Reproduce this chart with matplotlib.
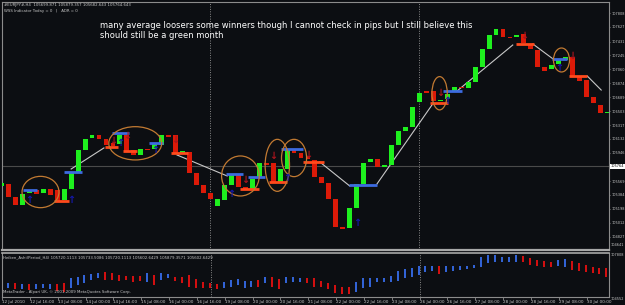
import numpy as np
import matplotlib
matplotlib.use('Agg')
from matplotlib import pyplot as plt
from matplotlib.patches import Ellipse

bg = '#0c0e12'
green = '#1ef01e'
red = '#dc1a08'
blue_lvl = '#3d6be0'
orange_lvl = '#ff4a1c'

# H4 candles from 12 Jul 2010 00:00 (bar index = position)
opens = [105503, 105530, 105357, 105250, 105410, 105450, 105410, 105463, 105450, 105317,
         105463, 105690, 105984, 106144, 106184, 106131, 106077, 106064, 106184, 105984,
         105917, 105997, 105997, 106051, 106184, 106184, 105944, 105957, 105677, 105517,
         105410, 105237, 105317, 105517, 105650, 105490, 105463, 105624, 105810, 105810,
         105557, 105730, 105984, 105944, 105904, 105850, 105624, 105543, 105330, 104956,
         104943, 105210, 105530, 105824, 105864, 105757, 105784, 106051, 106237, 106291,
         106624, 106771, 106771, 106638, 106664, 106771, 106825, 106811, 106891, 107091,
         107332, 107518, 107598, 107492, 107492, 107532, 107385, 107318, 107091, 107065,
         107131, 107185, 107225, 106958, 106918, 106691, 106584, 106478]
closes = [105543, 105357, 105250, 105397, 105450, 105397, 105463, 105383, 105303, 105463,
          105677, 105984, 106131, 106184, 106131, 106051, 106037, 106184, 105971, 105917,
          105997, 105984, 106064, 106184, 106157, 105944, 105971, 105677, 105517, 105410,
          105330, 105330, 105517, 105650, 105490, 105463, 105597, 105810, 105784, 105557,
          105730, 105984, 105944, 105877, 105864, 105624, 105543, 105330, 104956, 104930,
          105210, 105530, 105810, 105864, 105757, 105784, 106051, 106237, 106291, 106558,
          106745, 106745, 106638, 106651, 106731, 106825, 106811, 106891, 107091, 107332,
          107518, 107598, 107492, 107479, 107518, 107412, 107332, 107091, 107038, 107118,
          107185, 107225, 106971, 106905, 106691, 106611, 106478, 106491]

# Heiken Ashi sub window (open, close)
ha_open = [105461, 105158, 105537, 105083, 105461, 105083, 105158, 105083, 105461, 105537,
           105158, 105385, 105537, 105764, 105915, 106370, 106294, 106142, 106067, 106067,
           106067, 105613, 106142, 105764, 105915, 105991, 105991, 106142, 105840, 105613,
           105537, 105461, 105158, 105234, 105385, 105158, 105234, 105764, 105537, 105991,
           105840, 105537, 105613, 105635, 105938, 105938, 105688, 105560, 105385, 105257,
           105257, 104833, 105136, 105257, 105590, 105590, 105590, 105688, 105893, 106014,
           106142, 106392, 106445, 106846, 106392, 106445, 106521, 106597, 106650, 106771,
           107028, 107149, 107149, 107149, 107149, 107604, 107452, 107278, 107202, 107104,
           106846, 106771, 107202, 107028, 106899, 106771, 106695, 106695]
ha_close = [105158, 105537, 105083, 105461, 105007, 105461, 105461, 105461, 104931, 104856,
            105915, 105991, 106142, 106218, 106294, 105764, 105764, 105688, 105764, 105613,
            105688, 106294, 105385, 106294, 106218, 105688, 105537, 105234, 105158, 105158,
            105158, 105083, 105613, 105764, 105840, 105688, 105688, 105234, 105991, 105234,
            105083, 105991, 105991, 105938, 105514, 105257, 105257, 105060, 104757, 104681,
            104681, 105590, 105893, 105938, 105938, 105893, 106089, 106445, 106597, 106650,
            106846, 106846, 106846, 106195, 106846, 106846, 106846, 106846, 106899, 107528,
            107656, 107656, 107528, 107528, 107656, 107104, 106899, 106846, 106771, 106771,
            107278, 107354, 106521, 106445, 106392, 106271, 106195, 106014]

# WSS levels: (from bar, to bar, price)
blue_levels = [(3.1, 5.1, 105450), (9.0, 11.6, 105690), (15.9, 18.3, 106211), (21.2, 23.2, 106077),
               (32.2, 34.7, 105664), (35.4, 37.8, 105624), (40.1, 43.3, 105997), (49.9, 53.9, 105517),
               (63.4, 66.1, 106771), (79.0, 81.2, 107198)]
orange_levels = [(7.5, 9.7, 105303), (14.9, 16.7, 106024), (17.4, 19.5, 105971), (24.3, 26.8, 105944),
                 (34.2, 37.0, 105463), (38.4, 41.0, 105557), (43.3, 46.3, 105824), (61.5, 64.1, 106611),
                 (73.9, 76.5, 107398), (81.5, 84.1, 106971)]
zigzag = [((10.0, 105730), (14.7, 106011)), ((25.2, 105917), (32.4, 105637)),
          ((45.7, 105824), (50.0, 105503)), ((53.9, 105530), (62.0, 106611)),
          ((65.4, 106771), (73.4, 107385)), ((76.3, 107398), (79.2, 107198)),
          ((84.1, 106971), (86.1, 106784))]
up_bars = [4, 10, 17, 22, 33, 41, 51, 64, 80]
up_prices = [105317, 105317, 106077, 105984, 105397, 105610, 105010, 106638, 107078]
down_bars = [16, 18, 25, 35, 39, 44, 63, 75, 82]
down_prices = [106104, 106171, 106117, 105584, 105904, 105917, 106745, 107505, 107238]
# hand drawn circles: (centre bar, centre price, width in bars, height in price)
circles = [(5.6, 105423, 5.3, 418), (19.2, 106073, 7.6, 444), (34.3, 105637, 5.4, 534),
           (39.6, 105779, 3.5, 694), (42.0, 105877, 3.6, 498), (62.9, 106741, 2.2, 444),
           (80.4, 107185, 2.3, 320)]

bid = 105764
price_ticks = [107808, 107627, 107431, 107245, 107060, 106874, 106689, 106503, 106317, 106132,
               105946, 105569, 105384, 105198, 105012, 104827]
price_labels = ['107808', '107627', '107431', '107245', '107060', '106874', '106689',
                '106503', '106317', '106132', '105946', '105569', '105384', '105198',
                '105012', '104827']
time_ticks = [0, 4, 8, 12, 16, 20, 24, 28, 32, 36, 40, 44, 48, 52, 56, 60, 64, 68, 72, 76, 80, 84]
time_labels = ['12 Jul 2010', '12 Jul 16:00', '13 Jul 08:00', '14 Jul 00:00', '14 Jul 16:00',
               '15 Jul 08:00', '16 Jul 00:00', '16 Jul 16:00', '19 Jul 08:00', '20 Jul 00:00',
               '20 Jul 16:00', '21 Jul 08:00', '22 Jul 00:00', '22 Jul 16:00', '23 Jul 08:00',
               '26 Jul 00:00', '26 Jul 16:00', '27 Jul 08:00', '28 Jul 00:00', '28 Jul 16:00',
               '29 Jul 08:00', '30 Jul 00:00']
week_starts = [30, 60]

W, H = 625, 305
fig = plt.figure(figsize=(W / 100, H / 100), dpi=100, facecolor=bg)
ax = fig.add_axes([2 / W, 1 - 250 / H, 607 / W, 248 / H], facecolor=bg)
sub = fig.add_axes([2 / W, 1 - 296.5 / H, 607 / W, 44 / H], facecolor=bg)

xlim = (0.07, 87.22)
ax.set_xlim(*xlim)
ax.set_ylim(104649, 107959)
sub.set_xlim(*xlim)
sub.set_ylim(104515, 107846)

for a in (ax, sub):
    for s in a.spines.values():
        s.set_color('#8c8c8c')
        s.set_linewidth(0.8)
    for w in week_starts:
        a.axvline(w, color='#8a8a8a', linestyle=(0, (1, 1.5)), linewidth=0.7, zorder=1)
ax.spines['bottom'].set_linewidth(1.6)
ax.spines['bottom'].set_color('#a8a8a8')
sub.spines['top'].set_linewidth(1.2)
sub.spines['top'].set_color('#a8a8a8')

# bid line
ax.axhline(bid, color='#4a4a4a', linewidth=0.8, zorder=1)

# trend zigzag
for (x0, y0), (x1, y1) in zigzag:
    ax.plot([x0, x1], [y0, y1], color='#c8c8c8', linewidth=0.8, zorder=2)

# candles
bars = np.arange(len(opens))
o = np.array(opens)
c = np.array(closes)
cols = [green if cc >= oo else red for oo, cc in zip(o, c)]
ax.bar(bars, c - o, bottom=o, width=0.7, color=cols, linewidth=0, zorder=3)

for x0, x1, p in blue_levels:
    ax.plot([x0, x1], [p, p], color=blue_lvl, linewidth=2, solid_capstyle='butt', zorder=5)
for x0, x1, p in orange_levels:
    ax.plot([x0, x1], [p, p], color=orange_lvl, linewidth=2, solid_capstyle='butt', zorder=5)

for cx, cy, w, h in circles:
    ax.add_patch(Ellipse((cx, cy), w, h, fill=False, edgecolor='#c27a32', linewidth=0.9, zorder=6))

for b, p in zip(up_bars, up_prices):
    ax.text(b, p, '\u2191', color='#1418a8', fontsize=7, fontweight='bold',
            ha='center', va='center', zorder=7)
for b, p in zip(down_bars, down_prices):
    ax.text(b, p, '\u2193', color='#a8141c', fontsize=7, fontweight='bold',
            ha='center', va='center', zorder=7)

# price scale
ax.yaxis.tick_right()
ax.set_yticks(price_ticks)
ax.set_yticklabels(price_labels)
ax.tick_params(axis='y', colors='#8c8c8c', length=1, width=0.6, pad=0.6,
               labelsize=2.5, labelcolor='#c8c8c8')
ax.set_xticks([])
ax.text(1.003, (bid - 104649) / (107959 - 104649), '105764', transform=ax.transAxes,
        fontsize=2.5, color='black', ha='left', va='center',
        bbox=dict(boxstyle='square,pad=0.15', facecolor='white', edgecolor='none'))

# heiken ashi sub window
for b, ho, hc in zip(bars, ha_open, ha_close):
    col = '#3466dc' if hc >= ho else '#d81010'
    sub.vlines(b - 0.15, min(ho, hc), max(ho, hc), color=col, linewidth=1.4, zorder=3)
sub.set_yticks([])
sub.set_xticks(time_ticks)
sub.set_xticklabels(time_labels, ha='left')
sub.tick_params(axis='x', colors='#8c8c8c', length=2, width=0.6, pad=0.8,
                labelsize=3.0, labelcolor='#c8c8c8')

# texts
fig.text(4 / W, 1 - 5 / H, '#EURJPY#,H4  105699.871 105879.357 105682.643 105764.643',
         fontsize=2.8, color='#c8c8c8', va='center')
fig.text(4 / W, 1 - 11 / H, 'WSS Indicator Today = 0   |   ADR = 0',
         fontsize=2.8, color='#c8c8c8', va='center')
fig.text(100 / W, 1 - 25 / H,
         'many average loosers some winners though I cannot check in pips but I still believe this',
         fontsize=6.0, color='white', va='center')
fig.text(100 / W, 1 - 35 / H, 'should still be a green month',
         fontsize=6.0, color='white', va='center')
fig.text(3 / W, 1 - 257 / H,
         'Heiken_Ashi(Period_H4) 105720.1113 105733.5086 105720.1113 105602.6429 105879.3571 105602.6429',
         fontsize=2.8, color='#c8c8c8', va='center')
fig.text(3 / W, 1 - 292 / H, 'MetaTrader - Alpari UK, \u00a9 2001-2009 MetaQuotes Software Corp.',
         fontsize=2.8, color='#c8c8c8', va='center')
fig.text(610.5 / W, 1 - 245 / H, '104641', fontsize=2.5, color='#c8c8c8', va='center')
fig.text(610.5 / W, 1 - 255 / H, '107808', fontsize=2.5, color='#c8c8c8', va='center')
fig.text(610.5 / W, 1 - 299 / H, '104552', fontsize=2.5, color='#c8c8c8', va='center')

fig.savefig('out.png', dpi=100, facecolor=bg)
